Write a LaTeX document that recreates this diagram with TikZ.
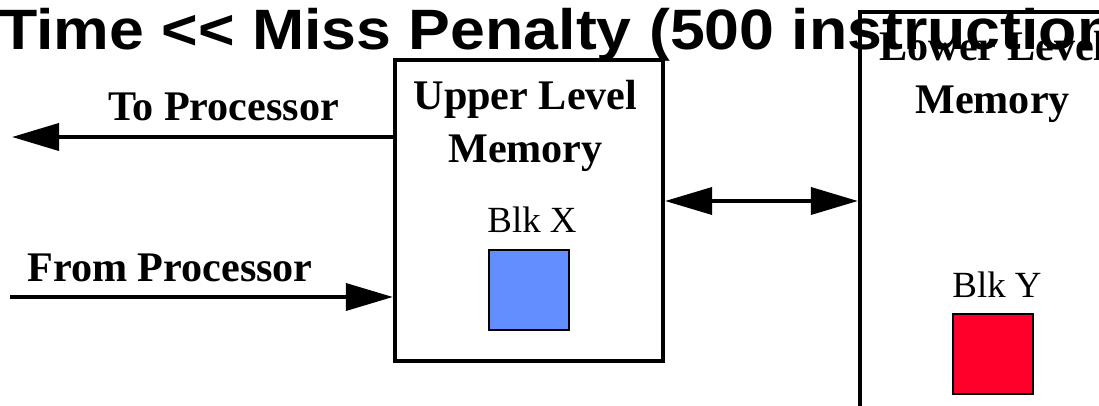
\documentclass[tikz,border=0pt]{standalone}
\usepackage{fontspec}
\setmainfont{Liberation Serif}
\newfontfamily\headfont[FakeStretch=1.1]{Liberation Sans}
\usetikzlibrary{arrows.meta, positioning}
\definecolor{BX}{RGB}{99,142,255}
\definecolor{BY}{RGB}{255,0,42}

\begin{document}
\begin{tikzpicture}[
  mem/.style={draw, line width=0.085cm, minimum width=5.36cm, inner sep=0pt},
  memlabel/.style={font=\fontsize{24}{30.1}\selectfont\bfseries, align=center,
                   anchor=north, inner sep=0pt},
  blklabel/.style={font=\fontsize{21}{25}\selectfont, anchor=base, inner sep=0pt},
  blk/.style={draw, line width=0.04cm, minimum size=1.6cm, inner sep=0pt},
  iolabel/.style={font=\fontsize{24}{29}\selectfont\bfseries, anchor=base, inner sep=0pt},
  link/.style={line width=0.075cm, -{Triangle[length=0.94cm, width=0.54cm]}},
  bothway/.style={line width=0.075cm,
    {Triangle[length=0.94cm, width=0.54cm]}-{Triangle[length=0.94cm, width=0.54cm]}}
]
\path[use as bounding box, fill=white] (0,0) rectangle (21.98,-8.12);
\clip (0,0) rectangle (21.98,-8.12);

% memories
\node[mem, minimum height=6.02cm] (upper) at (10.58,-4.21) {};
\node[mem, minimum height=8.76cm] (lower) at (19.88,-4.62) {};
\node[memlabel] (uplabel) at (10.51,-1.59) {Upper Level\\Memory};
\node[memlabel] (lowlabel) at (19.85,-0.62) {Lower Level\\Memory};

% blocks
\node[blklabel] (blkxlabel) at (10.64,-4.66) {Blk X};
\node[blk, fill=BX] (blkx) at (10.58,-5.80) {};
\node[blklabel] (blkylabel) at (19.94,-5.94) {Blk Y};
\node[blk, fill=BY] (blky) at (19.86,-7.08) {};

% processor side
\coordinate (toproc) at (0.24,-2.74);
\coordinate (fromproc) at (0.20,-5.94);
\draw[link] (upper.west |- toproc) -- (toproc);
\draw[link] (fromproc) -- (fromproc -| upper.west);
\node[iolabel] (tolabel) at (4.47,-2.42) {To Processor};
\node[iolabel] (fromlabel) at (3.40,-5.62) {From Processor};

\draw[bothway] ([yshift=0.19cm]upper.east) -- ([yshift=0.19cm]upper.east -| lower.west);

\node[font=\headfont\bfseries\fontsize{32.4}{36}\selectfont, anchor=base west, inner sep=0pt]
  (title) at (-0.02,-1.00) {Time << Miss Penalty (500 instructions};
\end{tikzpicture}
\end{document}
